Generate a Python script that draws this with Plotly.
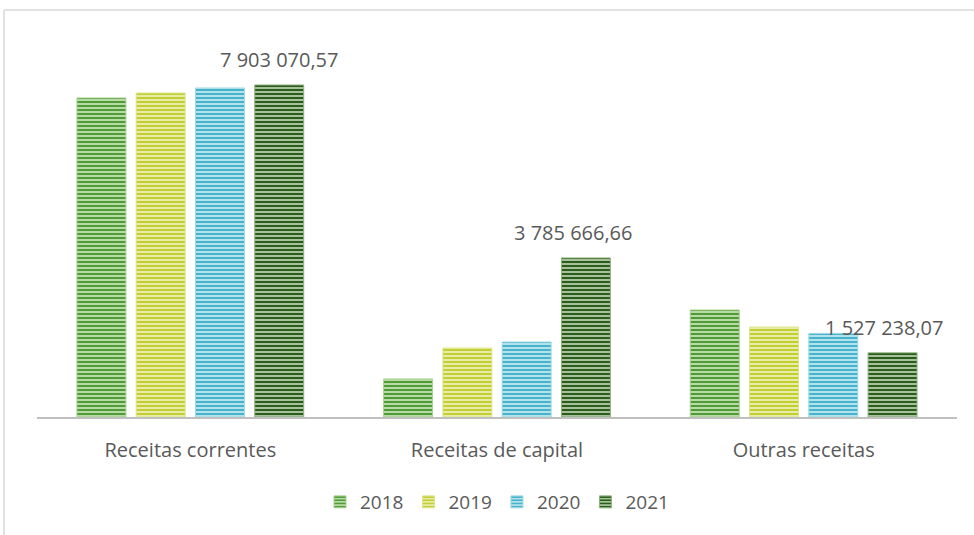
import plotly.graph_objects as go

categories = ["Receitas correntes", "Receitas de capital", "Outras receitas"]
years = ["2018", "2019", "2020", "2021"]
v2018 = [7594000, 905000, 2547000]
v2019 = [7712000, 1642000, 2142000]
v2020 = [7832000, 1785000, 1990000]
v2021 = [7903070.57, 3785666.66, 1527238.07]
label_texts = ["7 903 070,57", "3 785 666,66", "1 527 238,07"]

series = [v2018, v2019, v2020, v2021]
fg = ["#4F9B36", "#C2CE34", "#44B3CB", "#2C5C1C"]
bg = ["#C4E1B2", "#ECF0B4", "#C0E7F0", "#B3CDA8"]
line_c = ["#A9D18E", "#DDE68A", "#9ED8E6", "#8DB07E"]

BARGAP = 0.227
GROUPGAP = 0.174
FONT = "Open Sans"
GREY = "#595959"

fig = go.Figure()
for name, vals, f, b, lc in zip(years, series, fg, bg, line_c):
    fig.add_trace(go.Bar(
        name=name, x=categories, y=vals,
        marker=dict(color=b, line=dict(color=lc, width=1),
                    pattern=dict(shape="-", fgcolor=f, bgcolor=b, size=4,
                                 solidity=0.55, fillmode="replace")),
    ))

slot = (1 - BARGAP) / len(years)
off = (len(years) - 1 - (len(years) - 1) / 2) * slot
xshifts = [0, -12, -8]
for i, (val, txt) in enumerate(zip(v2021, label_texts)):
    fig.add_annotation(x=i + off, y=val, xref="x", yref="y", text=txt,
                       showarrow=False, yanchor="middle", yshift=25,
                       xshift=xshifts[i],
                       font=dict(family=FONT, size=20, color=GREY))

# chart frame (top and left edges visible)
x0 = -33 / 920
ytop = 1 + 30 / 377
fig.add_shape(type="line", xref="paper", yref="paper", x0=x0, x1=1.05,
              y0=ytop, y1=ytop, line=dict(color="#D9D9D9", width=1.5))
fig.add_shape(type="line", xref="paper", yref="paper", x0=x0, x1=x0,
              y0=ytop, y1=-0.35, line=dict(color="#D9D9D9", width=1.5))

fig.update_layout(
    width=974, height=535,
    margin=dict(l=37, r=17, t=40, b=118),
    paper_bgcolor="white", plot_bgcolor="white",
    barmode="group", bargap=BARGAP, bargroupgap=GROUPGAP,
    font=dict(family=FONT, size=20, color=GREY),
    showlegend=True,
    legend=dict(orientation="h", x=0.5, xanchor="center", y=-0.2255,
                yanchor="middle", font=dict(family=FONT, size=19, color=GREY),
                itemwidth=30, tracegroupgap=0),
    xaxis=dict(showline=True, linecolor="#BFBFBF", linewidth=2,
               ticks="", showgrid=False, ticklabelstandoff=14,
               tickfont=dict(family=FONT, size=20, color=GREY)),
    yaxis=dict(visible=False, range=[0, 8974000], showgrid=False),
)

fig.write_html("out.html", config={"displayModeBar": False},
               post_script="document.body.style.margin='0';")
